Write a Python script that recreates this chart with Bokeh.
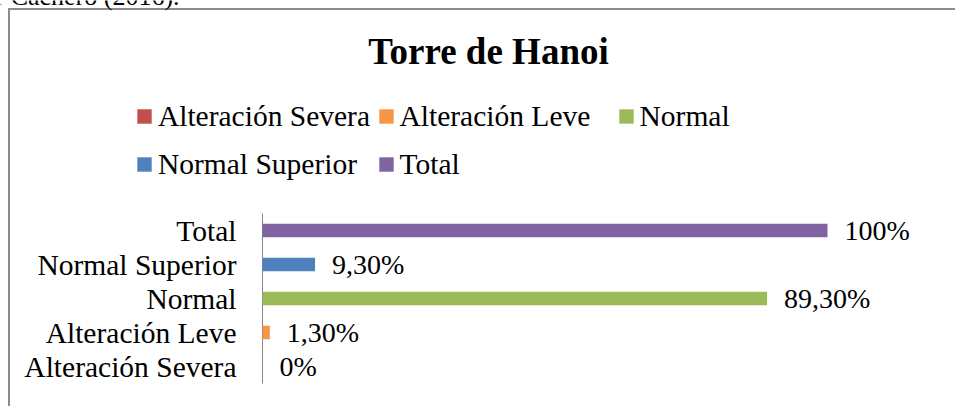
from bokeh.plotting import figure
from bokeh.models import ColumnDataSource, Legend, LegendItem, Label, Range1d
from bokeh.core.properties import value
from bokeh.embed import file_html
from bokeh.resources import INLINE

# ---- data ----
categories = ["Alteración Severa", "Alteración Leve", "Normal", "Normal Superior", "Total"]
values = [0.0, 1.3, 89.3, 9.3, 100.0]
value_labels = ["0%", "1,30%", "89,30%", "9,30%", "100%"]
colors = ["#C0504D", "#F79646", "#9BBB59", "#4F81BD", "#8064A2"]
title_text = "Torre de Hanoi"
caption_text = "r Cachero (2016)."

FONT = "Times New Roman"
W, H = 955, 406
AXIS_X = 262          # canvas px of the value axis
ROW_PX = 34.0         # px per category
TOP_CAT_Y = 230       # canvas px of the top category centre
PX_PER_UNIT = 5.65    # px per percent
n = len(categories)
pos = list(range(n))

x_range = Range1d(-AXIS_X / PX_PER_UNIT, (W - AXIS_X) / PX_PER_UNIT)
y_end = (n - 1) + TOP_CAT_Y / ROW_PX
y_range = Range1d(y_end - H / ROW_PX, y_end)

p = figure(width=W, height=H, x_range=x_range, y_range=y_range,
           output_backend="svg", toolbar_location=None,
           min_border=0, min_border_left=0, min_border_right=0,
           min_border_top=0, min_border_bottom=0)
p.border_fill_color = None
p.background_fill_color = None
p.outline_line_color = None
p.styles = {
    "background": "linear-gradient(#8c8c8c, #8c8c8c) 8px 8px / 2px 100% no-repeat, "
                  "linear-gradient(#8c8c8c, #8c8c8c) 8px 8px / 100% 2px no-repeat, #ffffff"
}
p.xgrid.visible = False
p.ygrid.visible = False
p.xaxis.visible = False
p.yaxis.visible = False

# value axis line
p.segment(x0=[0], y0=[-0.5], x1=[0], y1=[n - 0.5], line_color="#868686", line_width=1)

renderers = []
for i, (cat, val, col) in enumerate(zip(categories, values, colors)):
    src = ColumnDataSource(dict(y=[i], right=[val]))
    r = p.hbar(y="y", right="right", left=0, height=0.4, source=src,
               fill_color=col, line_color=None)
    renderers.append(r)

cat_src = ColumnDataSource(dict(x=[0] * n, y=pos, t=categories))
p.text(x="x", y="y", text="t", source=cat_src, x_offset=-26,
       text_baseline="middle", text_align="right",
       text_font=value(FONT), text_font_size="29.5px", text_color="#000000")

lab_src = ColumnDataSource(dict(x=values, y=pos, t=value_labels))
p.text(x="x", y="y", text="t", source=lab_src, x_offset=17,
       text_baseline="middle", text_align="left",
       text_font=value(FONT), text_font_size="28px", text_color="#000000")

p.add_layout(Label(x=488, y=H - 51, x_units="screen", y_units="screen", text=title_text,
                   text_align="center", text_baseline="alphabetic",
                   text_font=FONT, text_font_size="37px", text_font_style="bold",
                   text_color="#000000"))

p.add_layout(Label(x=-5, y=H + 4.5, x_units="screen", y_units="screen", text=caption_text,
                   text_align="left", text_baseline="alphabetic",
                   text_font=FONT, text_font_size="26px", text_color="#000000"))

legend_specs = [
    (0, (134.9, 273.2)),
    (1, (376.5, 273.2)),
    (2, (616.5, 273.2)),
    (3, (134.9, 225.1)),
    (4, (376.5, 225.1)),
]
for idx, loc in legend_specs:
    leg = Legend(items=[LegendItem(label=categories[idx], renderers=[renderers[idx]])],
                 location=loc, orientation="horizontal", padding=0, margin=0, spacing=0,
                 glyph_width=18, glyph_height=18, label_standoff=5,
                 label_text_font=FONT, label_text_font_size="29.5px",
                 label_text_color="#000000", border_line_color=None,
                 background_fill_alpha=0)
    p.add_layout(leg)

open("out.html", "w").write(file_html(p, INLINE))
